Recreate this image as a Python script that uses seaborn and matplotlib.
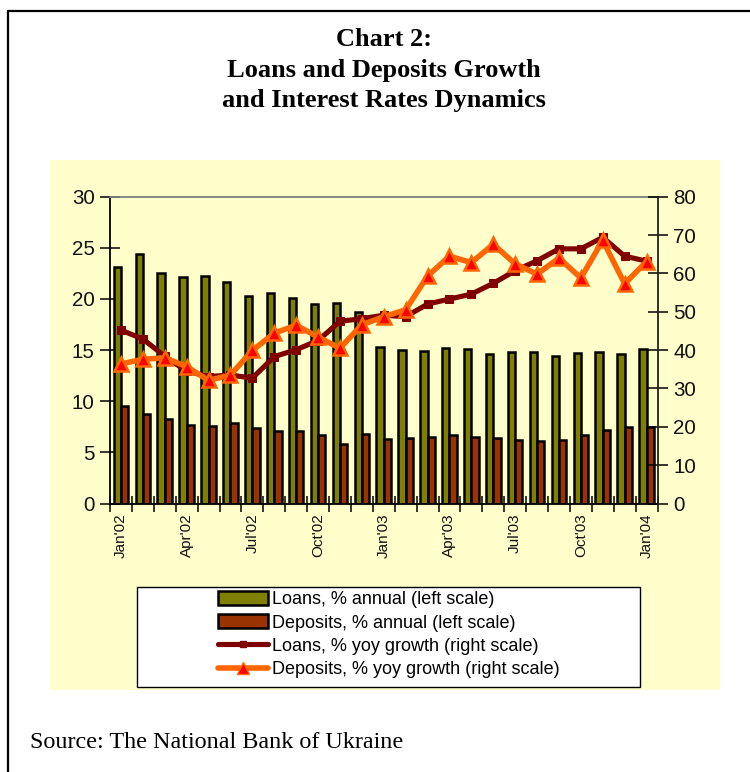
import numpy as np
import pandas as pd
import matplotlib
matplotlib.use("Agg")
import matplotlib.pyplot as plt
import seaborn as sns
from matplotlib.patches import Rectangle, Patch
from matplotlib.lines import Line2D

# ---------------- data ----------------
months = ["Jan'02", "Feb'02", "Mar'02", "Apr'02", "May'02", "Jun'02", "Jul'02", "Aug'02",
          "Sep'02", "Oct'02", "Nov'02", "Dec'02", "Jan'03", "Feb'03", "Mar'03", "Apr'03",
          "May'03", "Jun'03", "Jul'03", "Aug'03", "Sep'03", "Oct'03", "Nov'03", "Dec'03",
          "Jan'04"]
loans_rate = [23.1, 24.4, 22.5, 22.1, 22.2, 21.7, 20.3, 20.6, 20.1, 19.5, 19.6, 18.7,
              15.3, 15.0, 14.9, 15.2, 15.1, 14.6, 14.8, 14.8, 14.4, 14.75, 14.8, 14.6, 15.1]
deposits_rate = [9.5, 8.75, 8.25, 7.65, 7.55, 7.85, 7.35, 7.1, 7.05, 6.7, 5.85, 6.8,
                 6.35, 6.45, 6.55, 6.65, 6.55, 6.45, 6.2, 6.1, 6.2, 6.7, 7.2, 7.5, 7.5]
loans_growth = [45.2, 42.9, 38.4, 34.5, 33.1, 33.5, 32.7, 38.3, 40.1, 42.5, 47.5, 48.2,
                49.1, 48.7, 52.0, 53.3, 54.6, 57.4, 60.7, 63.3, 66.4, 66.4, 69.4, 64.5, 63.2]
deposits_growth = [36.4, 37.6, 38.0, 35.7, 32.1, 33.5, 39.9, 44.4, 46.5, 43.4, 40.5, 46.6,
                   48.7, 50.5, 59.3, 64.5, 62.8, 67.6, 62.5, 59.8, 64.0, 58.8, 68.6, 57.3, 63.1]
tick_labels = ["Jan'02", "Apr'02", "Jul'02", "Oct'02", "Jan'03", "Apr'03", "Jul'03",
               "Oct'03", "Jan'04"]
series_names = ["Loans, % annual (left scale)", "Deposits, % annual (left scale)",
                "Loans, % yoy growth (right scale)", "Deposits, % yoy growth (right scale)"]
left_ticks = [0, 5, 10, 15, 20, 25, 30]
right_ticks = [0, 10, 20, 30, 40, 50, 60, 70, 80]

# ---------------- style ----------------
sns.set_theme(style="white")
plt.rcParams['font.family'] = ['Liberation Sans', 'DejaVu Sans']
plt.rcParams['text.color'] = 'black'
SANS = ['Liberation Sans', 'DejaVu Sans']
SERIF = ['Liberation Serif', 'DejaVu Serif']

C_LOANS = '#808000'
C_DEP = '#993300'
C_LG = '#800000'
C_DG = '#FF6600'
PANEL = '#FFFFCC'

W, H = 750, 772
fig = plt.figure(figsize=(W / 100, H / 100), dpi=100)
fig.patch.set_facecolor('white')


def fx(px):
    return px / W


def fy(py):
    return 1 - py / H


# yellow panel (behind the axes)
fig.patches.append(Rectangle((fx(50), fy(690)), fx(670), 530 / H, transform=fig.transFigure,
                             facecolor=PANEL, edgecolor='none', zorder=-2))
# legend box
fig.patches.append(Rectangle((fx(137), fy(687)), fx(503), 100 / H, transform=fig.transFigure,
                             facecolor='white', edgecolor='black', lw=1.0, zorder=1))
# outer page frame (left & top)
fig.lines.append(Line2D([fx(8), fx(8)], [fy(11), 0], transform=fig.transFigure,
                        color='black', lw=1.6))
fig.lines.append(Line2D([fx(8), 1], [fy(11), fy(11)], transform=fig.transFigure,
                        color='black', lw=1.6))

# titles
for text, y in [("Chart 2:", 40), ("Loans and Deposits Growth", 70),
                ("and Interest Rates Dynamics", 100)]:
    fig.text(fx(384), fy(y), text, ha='center', va='center', family=SERIF,
             weight='bold', size=19, color='black')
fig.text(fx(30), fy(742), "Source: The National Bank of Ukraine", ha='left', va='center',
         family=SERIF, size=17.4, color='black')

# ---------------- axes ----------------
ax = fig.add_axes([fx(110), fy(503.5), fx(547.5), 306.8 / H])
ax.set_facecolor(PANEL)

df = pd.DataFrame({
    'month': months * 2,
    'value': loans_rate + deposits_rate,
    'series': [series_names[0]] * len(months) + [series_names[1]] * len(months),
})
sns.barplot(data=df, x='month', y='value', hue='series', palette=[C_LOANS, C_DEP],
            width=0.67, edgecolor='black', linewidth=1.8, saturation=1,
            errorbar=None, legend=False, ax=ax)

ax2 = ax.twinx()
xpos = np.arange(len(months))
sns.lineplot(x=xpos, y=loans_growth, ax=ax2, color=C_LG, lw=3.7, marker='s',
             markersize=5.5, markeredgecolor=C_LG, markerfacecolor=C_LG)
sns.lineplot(x=xpos, y=deposits_growth, ax=ax2, color=C_DG, lw=4.0, marker='^',
             markersize=9.5, markeredgecolor=C_DG, markerfacecolor='#FF0000',
             markeredgewidth=1.8)

ax.set_xlim(-0.5, len(months) - 0.5)
ax2.set_xlim(-0.5, len(months) - 0.5)
ax.set_ylim(0, 30)
ax2.set_ylim(0, 80)
for a in (ax, ax2):
    a.set_xlabel('')
    a.set_ylabel('')

# spines
for s in ['left', 'bottom']:
    ax.spines[s].set_color('black')
    ax.spines[s].set_linewidth(1.3)
ax.spines['top'].set_color('#808080')
ax.spines['top'].set_linewidth(1.3)
ax.spines['right'].set_visible(False)
for s in ['left', 'bottom', 'top']:
    ax2.spines[s].set_visible(False)
ax2.spines['right'].set_color('#222222')
ax2.spines['right'].set_linewidth(1.3)

# y ticks
ax.set_yticks(left_ticks)
ax.tick_params(axis='y', left=True, direction='inout', length=14, width=1.1,
               color='black', labelsize=14.8, pad=4, labelcolor='#111111')
ax2.set_yticks(right_ticks)
ax2.tick_params(axis='y', right=True, direction='inout', length=15, width=1.1,
                color='black', labelsize=14.8, pad=4, labelcolor='#111111')

# x ticks: boundaries as major ticks, labels at every third month (minor)
ax.set_xticks(np.arange(-0.5, len(months), 1.0))
ax.set_xticklabels([])
lab_pos = [months.index(m) for m in tick_labels]
ax.set_xticks(lab_pos, labels=tick_labels, minor=True)
ax.tick_params(axis='x', which='major', bottom=True, direction='inout', length=12,
               width=1.1, color='black')
ax.tick_params(axis='x', which='minor', bottom=True, length=0, labelrotation=90,
               labelsize=11, pad=7, labelcolor='#111111')

# legend
handles = [
    Patch(facecolor=C_LOANS, edgecolor='black', lw=1.8),
    Patch(facecolor=C_DEP, edgecolor='black', lw=1.8),
    Line2D([], [], color=C_LG, lw=3.7, marker='s', markersize=5,
           markerfacecolor=C_LG, markeredgecolor=C_LG),
    Line2D([], [], color=C_DG, lw=4.0, marker='^', markersize=8,
           markerfacecolor='#FF0000', markeredgecolor=C_DG),
]
leg = fig.legend(handles, series_names, loc='upper left',
                 bbox_to_anchor=(fx(218), fy(591)), bbox_transform=fig.transFigure,
                 frameon=False, prop={'family': SANS, 'size': 13},
                 handlelength=2.77, handleheight=0.83, labelspacing=0.33,
                 handletextpad=0.22, borderpad=0, borderaxespad=0)
for t in leg.get_texts():
    t.set_color('black')

fig.savefig('out.png', dpi=100, facecolor='white')
